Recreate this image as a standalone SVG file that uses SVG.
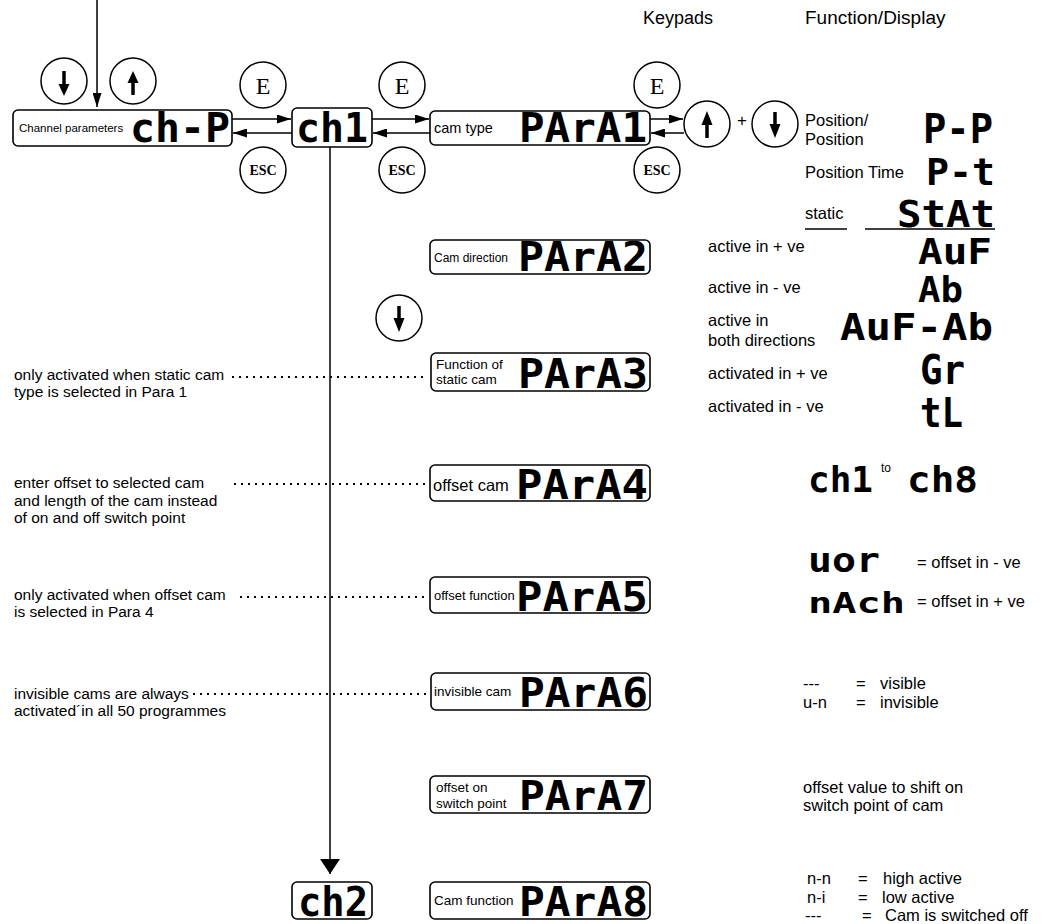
<svg xmlns="http://www.w3.org/2000/svg" width="1044" height="924" viewBox="0 0 1044 924">
<defs>
<style>
.t{font-family:"Liberation Sans",Arial,sans-serif;fill:#000}
.r{font-family:"Liberation Sans",Arial,sans-serif;fill:#000;font-size:16.5px}
.seg{font-family:"DejaVu Sans Mono",monospace;font-weight:bold;fill:#000}
.box{fill:#fff;stroke:#000;stroke-width:1.6}
.key{fill:#fff;stroke:#000;stroke-width:1.5}
.ek{font-family:"Liberation Serif","Times New Roman",serif;font-size:24px;text-anchor:middle;fill:#000}
.esc{font-family:"Liberation Serif","Times New Roman",serif;font-size:14px;font-weight:bold;text-anchor:middle;fill:#000}
.ln{stroke:#000;stroke-width:1.5;fill:none}
.dot{stroke:#000;stroke-width:1.8;stroke-dasharray:2 5;fill:none}
.sh{stroke:#000;stroke-width:3.5}
</style>
<marker id="ah" viewBox="0 0 14 9" refX="14" refY="4.5" markerWidth="14" markerHeight="9" markerUnits="userSpaceOnUse" orient="auto"><path d="M0,0 L14,4.5 L0,9 z" fill="#000"/></marker>
<marker id="ahb" viewBox="0 0 15 20" refX="15" refY="10" markerWidth="15" markerHeight="20" markerUnits="userSpaceOnUse" orient="auto"><path d="M0,0 L15,10 L0,20 z" fill="#000"/></marker>
</defs>
<rect width="1044" height="924" fill="#fff"/>

<g id="headers">
<text class="t" x="643" y="24" font-size="18">Keypads</text>
<text class="t" x="805" y="24" font-size="19">Function/Display</text>
</g>

<g id="connectors">
<line class="ln" x1="97" y1="0" x2="97" y2="107" marker-end="url(#ah)"/>
<line class="ln" x1="232" y1="119" x2="291" y2="119" marker-end="url(#ah)"/>
<line class="ln" x1="292" y1="133" x2="233" y2="133" marker-end="url(#ah)"/>
<line class="ln" x1="372" y1="119" x2="429" y2="119" marker-end="url(#ah)"/>
<line class="ln" x1="430" y1="133" x2="373" y2="133" marker-end="url(#ah)"/>
<line class="ln" x1="650" y1="119" x2="683" y2="119" marker-end="url(#ah)"/>
<line class="ln" x1="684" y1="133" x2="651" y2="133" marker-end="url(#ah)"/>
<line class="ln" x1="330" y1="147" x2="330" y2="874" marker-end="url(#ahb)"/>
<line class="dot" x1="232" y1="377" x2="428" y2="377"/>
<line class="dot" x1="234" y1="484" x2="428" y2="484"/>
<line class="dot" x1="240" y1="597" x2="428" y2="597"/>
<line class="dot" x1="193" y1="694" x2="429" y2="694"/>
</g>

<g id="key-down-1"><circle class="key" cx="64" cy="81" r="23"/><line class="sh" x1="64" y1="71" x2="64" y2="85"/><polygon points="58.5,84 69.5,84 64,96"/></g>
<g id="key-up-1"><circle class="key" cx="133" cy="81" r="23"/><polygon points="127.5,83 138.5,83 133,71"/><line class="sh" x1="133" y1="82" x2="133" y2="95"/></g>

<g id="key-E-1"><circle class="key" cx="263" cy="85" r="23"/><text class="ek" x="263" y="93.5">E</text></g>
<g id="key-E-2"><circle class="key" cx="402" cy="85" r="23"/><text class="ek" x="402" y="93.5">E</text></g>
<g id="key-E-3"><circle class="key" cx="657" cy="85" r="23"/><text class="ek" x="657" y="93.5">E</text></g>
<g id="key-ESC-1"><circle class="key" cx="263" cy="170" r="23"/><text class="esc" x="263" y="175">ESC</text></g>
<g id="key-ESC-2"><circle class="key" cx="402" cy="170" r="23"/><text class="esc" x="402" y="175">ESC</text></g>
<g id="key-ESC-3"><circle class="key" cx="657" cy="170" r="23"/><text class="esc" x="657" y="175">ESC</text></g>

<g id="key-up-2"><circle class="key" cx="707" cy="124" r="23"/><polygon points="701.5,125 712.5,125 707,111"/><line class="sh" x1="707" y1="124" x2="707" y2="138"/></g>
<text class="t" x="742" y="126" font-size="17" text-anchor="middle">+</text>
<g id="key-down-2"><circle class="key" cx="775" cy="124" r="23"/><line class="sh" x1="775" y1="112" x2="775" y2="125"/><polygon points="769.5,124 780.5,124 775,138"/></g>
<g id="key-down-3"><circle class="key" cx="399" cy="318" r="23"/><line class="sh" x1="399" y1="306" x2="399" y2="319"/><polygon points="393.5,318 404.5,318 399,332"/></g>

<g id="node-chP"><rect class="box" x="13" y="110" width="219" height="36" rx="5"/><text class="t" x="19" y="132" font-size="11.5">Channel parameters</text><text class="seg" x="130" y="142" font-size="41" textLength="100" lengthAdjust="spacingAndGlyphs">ch-P</text></g>
<g id="node-ch1"><rect class="box" x="292" y="108" width="80" height="39" rx="5"/><text class="seg" x="296" y="142" font-size="41" textLength="72" lengthAdjust="spacingAndGlyphs">ch1</text></g>
<g id="node-para1"><rect class="box" x="430" y="111" width="220" height="34" rx="5"/><text class="t" x="434" y="133" font-size="14.5">cam type</text><text class="seg" x="519" y="142" font-size="40" textLength="128" lengthAdjust="spacingAndGlyphs">PArA1</text></g>
<g id="node-para2"><rect class="box" x="430" y="240" width="220" height="34" rx="5"/><text class="t" x="434" y="262" font-size="12">Cam direction</text><text class="seg" x="518" y="271" font-size="40" textLength="130" lengthAdjust="spacingAndGlyphs">PArA2</text></g>
<g id="node-para3"><rect class="box" x="431" y="353" width="219" height="38" rx="5"/><text class="t" x="436" y="369" font-size="13.5">Function of</text><text class="t" x="436" y="384" font-size="13.5">static cam</text><text class="seg" x="518" y="388" font-size="41" textLength="130" lengthAdjust="spacingAndGlyphs">PArA3</text></g>
<g id="node-para4"><rect class="box" x="430" y="465" width="220" height="36" rx="5"/><text class="t" x="433" y="491" font-size="16.5">offset cam</text><text class="seg" x="516" y="499" font-size="41" textLength="132" lengthAdjust="spacingAndGlyphs">PArA4</text></g>
<g id="node-para5"><rect class="box" x="430" y="577" width="220" height="36" rx="5"/><text class="t" x="434" y="600" font-size="13">offset function</text><text class="seg" x="516" y="611" font-size="41" textLength="132" lengthAdjust="spacingAndGlyphs">PArA5</text></g>
<g id="node-para6"><rect class="box" x="431" y="673" width="219" height="37" rx="5"/><text class="t" x="434" y="696" font-size="13.5">invisible cam</text><text class="seg" x="519" y="707" font-size="41" textLength="129" lengthAdjust="spacingAndGlyphs">PArA6</text></g>
<g id="node-para7"><rect class="box" x="430" y="776" width="220" height="37" rx="5"/><text class="t" x="436" y="792" font-size="13.5">offset on</text><text class="t" x="436" y="808" font-size="13.5">switch point</text><text class="seg" x="519" y="810" font-size="41" textLength="129" lengthAdjust="spacingAndGlyphs">PArA7</text></g>
<g id="node-para8"><rect class="box" x="430" y="882" width="220" height="37" rx="5"/><text class="t" x="434" y="905" font-size="13.5">Cam function</text><text class="seg" x="519" y="916" font-size="41" textLength="129" lengthAdjust="spacingAndGlyphs">PArA8</text></g>
<g id="node-ch2"><rect class="box" x="292" y="882" width="80" height="37" rx="5"/><text class="seg" x="298" y="916" font-size="41" textLength="70" lengthAdjust="spacingAndGlyphs">ch2</text></g>

<g id="notes-left" class="t" font-size="15.5">
<text x="14" y="380">only activated when static cam</text>
<text x="14" y="397">type is selected in Para 1</text>
<text x="14" y="488">enter offset to selected cam</text>
<text x="14" y="505.5">and length of the cam instead</text>
<text x="14" y="523">of on and off switch point</text>
<text x="14" y="600">only activated when offset cam</text>
<text x="14" y="617">is selected in Para 4</text>
<text x="14" y="699">invisible cams are always</text>
<text x="14" y="716">activated´in all 50 programmes</text>
</g>

<g id="functions-right">
<text class="r" x="805" y="126">Position/</text>
<text class="r" x="805" y="145">Position</text>
<text class="seg" x="923" y="143" font-size="40" textLength="70" lengthAdjust="spacingAndGlyphs">P-P</text>
<text class="r" x="805" y="178">Position Time</text>
<text class="seg" x="926" y="185" font-size="38" textLength="69" lengthAdjust="spacingAndGlyphs">P-t</text>
<text class="r" x="805" y="219">static</text>
<line class="ln" x1="805" y1="229" x2="847" y2="229"/>
<line class="ln" x1="865" y1="229" x2="995" y2="229"/>
<text class="seg" x="897" y="227" font-size="38" textLength="98" lengthAdjust="spacingAndGlyphs">StAt</text>
<text class="r" x="708" y="252">active in + ve</text>
<text class="seg" x="918" y="264" font-size="36" textLength="74" lengthAdjust="spacingAndGlyphs">AuF</text>
<text class="r" x="708" y="293">active in - ve</text>
<text class="seg" x="918" y="302" font-size="36" textLength="45" lengthAdjust="spacingAndGlyphs">Ab</text>
<text class="r" x="708" y="326">active in</text>
<text class="r" x="708" y="346">both directions</text>
<text class="seg" x="840" y="340" font-size="38" textLength="153" lengthAdjust="spacingAndGlyphs">AuF-Ab</text>
<text class="r" x="708" y="379">activated in + ve</text>
<text class="seg" x="920" y="384" font-size="40" textLength="45" lengthAdjust="spacingAndGlyphs">Gr</text>
<text class="r" x="708" y="412">activated in - ve</text>
<text class="seg" x="920" y="427" font-size="40" textLength="43" lengthAdjust="spacingAndGlyphs">tL</text>
<text class="seg" x="808" y="492" font-size="35" textLength="65" lengthAdjust="spacingAndGlyphs">ch1</text>
<text class="t" x="881" y="472" font-size="12">to</text>
<text class="seg" x="907" y="492" font-size="35" textLength="71" lengthAdjust="spacingAndGlyphs">ch8</text>
<text class="seg" x="808" y="572" font-size="34" textLength="72" lengthAdjust="spacingAndGlyphs">uor</text>
<text class="r" x="917" y="568">= offset in - ve</text>
<text class="seg" x="808" y="613" font-size="28" textLength="97" lengthAdjust="spacingAndGlyphs">nAch</text>
<text class="r" x="917" y="607">= offset in + ve</text>
<text class="r" x="803" y="689">---</text>
<text class="r" x="856" y="689">=</text>
<text class="r" x="880" y="689">visible</text>
<text class="r" x="803" y="708">u-n</text>
<text class="r" x="856" y="708">=</text>
<text class="r" x="880" y="708">invisible</text>
<text class="r" x="803" y="793">offset value to shift on</text>
<text class="r" x="803" y="811">switch point of cam</text>
<text class="r" x="807" y="884">n-n</text>
<text class="r" x="858" y="884">=</text>
<text class="r" x="883" y="884">high active</text>
<text class="r" x="807" y="903">n-i</text>
<text class="r" x="858" y="903">=</text>
<text class="r" x="882" y="903">low active</text>
<text class="r" x="805" y="921">---</text>
<text class="r" x="862" y="921">=</text>
<text class="r" x="885" y="921">Cam is switched off</text>
</g>
</svg>
